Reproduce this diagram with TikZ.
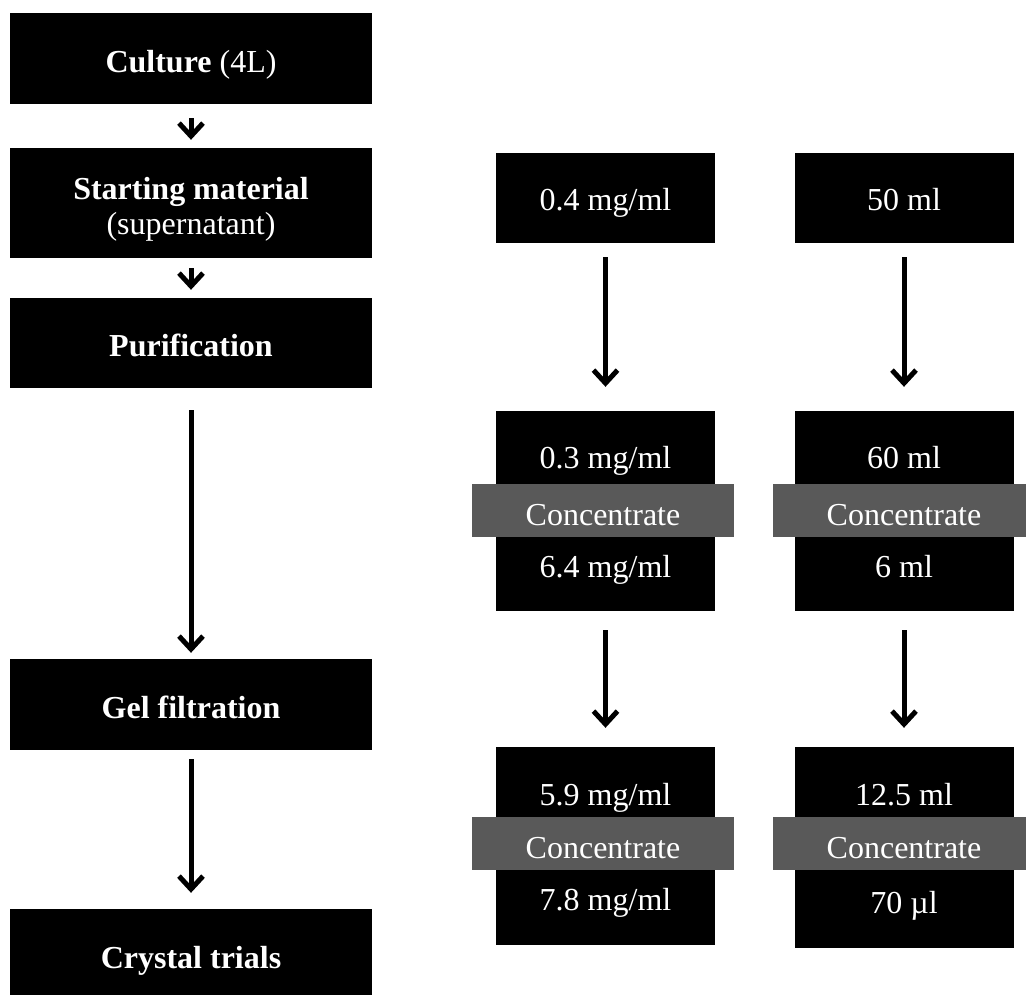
\documentclass[tikz,border=0pt]{standalone}
\usepackage{fontspec}
\setmainfont{Liberation Serif}
\usetikzlibrary{arrows.meta}
\definecolor{bandgrey}{RGB}{89,89,89}
\begin{document}
\begin{tikzpicture}[x=1pt,y=-1pt,
  txt/.style={font=\fontsize{32}{35}\selectfont},
  stage/.style={txt, fill=black, text=white, inner sep=0pt, minimum width=362pt, align=center,
                text height=27pt, text depth=0pt},
  valbox/.style={fill=black, inner sep=0pt, minimum width=219pt},
  band/.style={txt, fill=bandgrey, text=white, inner sep=0pt, minimum width=262pt, minimum height=53pt,
               text height=29pt, text depth=0pt},
  val/.style={txt, text=white, inner sep=0pt, text height=21pt, text depth=0pt},
  flow/.style={line width=5pt, -{Straight Barb[length=13pt, width=24pt]}},
]
\useasboundingbox (0,0) rectangle (1026,994);
\clip (0,0) rectangle (1026,994);

% main process column
\node[stage, minimum height=91pt]  (cult)  at (191,58.5)  {\textbf{Culture} (4L)};
\node[fill=black, inner sep=0pt, minimum width=362pt, minimum height=110pt] (start) at (191,203) {};
\node[txt, text=white, align=center, inner sep=0pt] (startt) at (191,209)
     {\textbf{Starting material}\\(supernatant)};
\node[stage, minimum height=90pt]  (puri)  at (191,343)   {\textbf{Purification}};
\node[stage, minimum height=91pt]  (gel)   at (191,704.5) {\textbf{Gel filtration}};
\node[stage, minimum height=91pt]  (cryst) at (191,954.5) {\textbf{Crystal trials}};

\draw[flow] ([yshift=-14pt]cult.south)  -- ([yshift=8pt]start.north);
\draw[flow] ([yshift=-10pt]start.south) -- ([yshift=8pt]puri.north);
\draw[flow] ([yshift=-22pt]puri.south)  -- ([yshift=6pt]gel.north);
\draw[flow] ([yshift=-9pt]gel.south)    -- ([yshift=16pt]cryst.north);

% concentration column
\node[valbox, minimum height=90pt]  (c0) at (605.5,198) {};
\node[val] (c0t) at (605.5,200) {0.4 mg/ml};
\node[valbox, minimum height=200pt] (c1) at (605.5,511) {};
\node[band] (c1b) at (603,510.5) {Concentrate};
\node[val] (c1a) at (605.5,458) {0.3 mg/ml};
\node[val] (c1c) at (605.5,567) {6.4 mg/ml};
\node[valbox, minimum height=198pt] (c2) at (605.5,846) {};
\node[band] (c2b) at (603,843.5) {Concentrate};
\node[val] (c2a) at (605.5,795) {5.9 mg/ml};
\node[val] (c2c) at (605.5,900) {7.8 mg/ml};

\draw[flow] ([yshift=-14pt]c0.south) -- ([yshift=24pt]c1.north);
\draw[flow] ([yshift=-19pt]c1.south) -- ([yshift=19pt]c2.north);

% volume column
\node[valbox, minimum height=90pt]  (v0) at (904,198) {};
\node[val] (v0t) at (904,200) {50 ml};
\node[valbox, minimum height=200pt] (v1) at (904,511) {};
\node[band] (v1b) at (904,510.5) {Concentrate};
\node[val] (v1a) at (904,458) {60 ml};
\node[val] (v1c) at (904,567) {6 ml};
\node[valbox, minimum height=201pt] (v2) at (904,847.5) {};
\node[band] (v2b) at (904,843.5) {Concentrate};
\node[val] (v2a) at (904,795) {12.5 ml};
\node[val] (v2c) at (904,903) {70 µl};

\draw[flow] ([yshift=-14pt]v0.south) -- ([yshift=24pt]v1.north);
\draw[flow] ([yshift=-19pt]v1.south) -- ([yshift=19pt]v2.north);
\end{tikzpicture}
\end{document}
